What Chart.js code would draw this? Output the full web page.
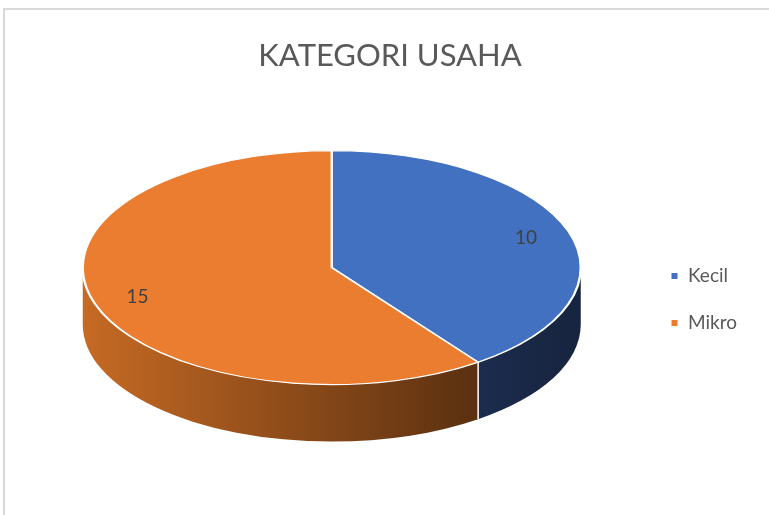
<!DOCTYPE html>
<html>
<head>
<meta charset="utf-8">
<script src="https://cdn.jsdelivr.net/npm/chart.js@4"></script>
<style>
  html, body { margin: 0; padding: 0; background: #fff; }
  #wrap { position: relative; width: 769px; height: 515px; overflow: hidden; }
  #frame { position: absolute; left: 3px; top: 8px; width: 800px; height: 600px; border: 2px solid #d9d9d9; }
  #pie { position: absolute; left: 0; top: 0; }
</style>
</head>
<body>
<div id="wrap">
  <div id="frame"></div>
  <canvas id="pie" width="769" height="515"></canvas>
</div>
<script>
// data
const categories = ['Kecil', 'Mikro'];
const values = [10, 15];
const sliceColors = ['#4271C2', '#EB7D31'];
// side (depth) colours: [left, right] of gradient
const sideColors = [['#1c2c4e', '#17243f'], ['#c66a24', '#5a3010']];

// 3d look: ellipse radii, depth of the side, shift of the top face
const RX = 249, RY = 117, DEPTH = 57, LIFT = 32, SHIFT_X = -6;
const LABEL_POS = 0.82;

function topFace(chart) {
  const arc = chart.getDatasetMeta(0).data[0];
  return { ox: arc.x, oy: arc.y, x: arc.x + SHIFT_X, y: arc.y - LIFT, r: arc.outerRadius };
}

const pie3d = {
  id: 'pie3d',
  beforeDatasetsDraw(chart) {
    const ctx = chart.ctx;
    const meta = chart.getDatasetMeta(0);
    const e = topFace(chart);

    // visible part of the side for each slice (front half: 0..PI)
    meta.data.forEach((arc, i) => {
      const a1 = Math.max(arc.startAngle, 0);
      const a2 = Math.min(arc.endAngle, Math.PI);
      if (a2 <= a1) return;
      const xl = e.x + RX * Math.cos(a2);
      const xr = e.x + RX * Math.cos(a1);
      const g = ctx.createLinearGradient(Math.min(xl, xr), 0, Math.max(xl, xr), 0);
      g.addColorStop(0, sideColors[i][0]);
      g.addColorStop(1, sideColors[i][1]);
      ctx.save();
      ctx.beginPath();
      ctx.ellipse(e.x, e.y, RX, RY, 0, a1, a2);
      ctx.ellipse(e.x, e.y + DEPTH, RX, RY, 0, a2, a1, true);
      ctx.closePath();
      ctx.fillStyle = g;
      ctx.fill();
      ctx.restore();
    });

    // white seams on the side where slices meet
    meta.data.forEach(arc => {
      const a = arc.startAngle;
      if (a > 0 && a < Math.PI) {
        const px = e.x + RX * Math.cos(a), py = e.y + RY * Math.sin(a);
        ctx.save();
        ctx.strokeStyle = '#ffffff';
        ctx.lineWidth = 1.5;
        ctx.beginPath();
        ctx.moveTo(px, py);
        ctx.lineTo(px, py + DEPTH);
        ctx.stroke();
        ctx.restore();
      }
    });

    // squash the pie into the top face ellipse
    ctx.save();
    ctx.translate(e.x, e.y);
    ctx.scale(RX / e.r, RY / e.r);
    ctx.translate(-e.ox, -e.oy);
  },
  afterDatasetsDraw(chart) {
    const ctx = chart.ctx;
    ctx.restore();
    const e = topFace(chart);
    const meta = chart.getDatasetMeta(0);
    ctx.save();
    ctx.font = '19px Lato';
    ctx.fillStyle = '#404040';
    ctx.textAlign = 'center';
    ctx.textBaseline = 'middle';
    meta.data.forEach((arc, i) => {
      const mid = (arc.startAngle + arc.endAngle) / 2;
      const x = e.x + RX * LABEL_POS * Math.cos(mid);
      const y = e.y + RY * LABEL_POS * Math.sin(mid);
      ctx.fillText(String(values[i]), x, y);
    });
    ctx.restore();
  }
};

Chart.defaults.font.family = 'Lato';

new Chart(document.getElementById('pie'), {
  type: 'pie',
  data: {
    labels: categories,
    datasets: [{
      data: values,
      backgroundColor: sliceColors,
      borderColor: '#ffffff',
      borderWidth: 2
    }]
  },
  options: {
    responsive: false,
    animation: false,
    events: [],
    layout: { padding: { top: 8, left: 33, right: 22, bottom: 6 } },
    plugins: {
      title: {
        display: true,
        text: 'KATEGORI USAHA',
        color: '#595959',
        font: { family: 'Lato', size: 31, weight: 'normal' },
        padding: { top: 29, bottom: 16 }
      },
      legend: {
        position: 'right',
        fullSize: false,
        labels: {
          boxWidth: 8,
          boxHeight: 8,
          padding: 28,
          color: '#595959',
          font: { family: 'Lato', size: 19 }
        }
      },
      tooltip: { enabled: false }
    }
  },
  plugins: [pie3d]
});
</script>
</body>
</html>
